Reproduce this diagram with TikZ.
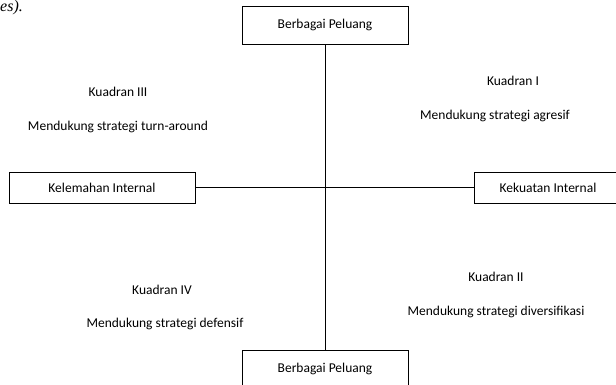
\documentclass[tikz,border=0pt]{standalone}
\usepackage{fontspec}
\setmainfont{Carlito}
\newfontfamily\bodyserif{Liberation Serif}
\begin{document}
\begin{tikzpicture}[x=1pt,y=-1pt]
    \tikzstyle{box}=[draw=black, line width=0.8pt, inner sep=2pt, font=\fontsize{13.5}{15}\selectfont];
    \tikzstyle{lbl}=[inner sep=1pt, font=\fontsize{13.5}{15}\selectfont];
    \clip (0,0) rectangle (616,385);
    \useasboundingbox (0,0) rectangle (616,385);

	\node[anchor=north west, inner sep=0pt, font=\bodyserif\itshape\fontsize{16}{18}\selectfont] (frag) at (0, 0) {es).};

	\node at (325, 25) [box, minimum width=166pt, minimum height=38pt] (top) {Berbagai Peluang};
	\node at (325, 369) [box, minimum width=166pt, minimum height=38pt] (bot) {Berbagai Peluang};
	\node at (102, 187.5) [box, minimum width=186pt, minimum height=31pt] (weak) {Kelemahan Internal};
	\node at (548, 187.5) [box, minimum width=148pt, minimum height=31pt] (strong) {Kekuatan Internal};

	\draw[line width=0.8pt] (top) -- (bot);
	\draw[line width=0.8pt] (weak) -- (strong);

	\node at (118, 92) [lbl] (q3) {Kuadran III};
	\node at (118, 127) [lbl] (q3s) {Mendukung strategi turn-around};
	\node at (513, 81) [lbl] (q1) {Kuadran I};
	\node at (495, 116) [lbl] (q1s) {Mendukung strategi agresif};
	\node at (162, 290) [lbl] (q4) {Kuadran IV};
	\node at (165, 324) [lbl] (q4s) {Mendukung strategi defensif};
	\node at (496, 277) [lbl] (q2) {Kuadran II};
	\node at (496, 312) [lbl] (q2s) {Mendukung strategi diversifikasi};
\end{tikzpicture}
\end{document}
